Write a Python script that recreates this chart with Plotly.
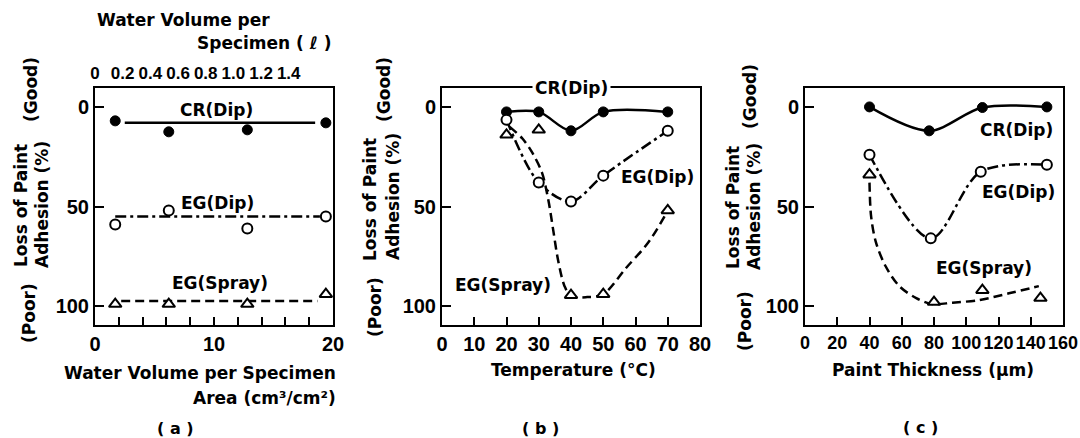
import plotly.graph_objects as go

# ---------------- data ----------------
# (a) water volume per specimen area
a_x = [1.7, 6.2, 12.8, 19.4]
a_cr = [7, 12.5, 11.5, 8]
a_egdip = [59, 52, 61, 55]
a_egspray = [99, 99, 99, 94]
a_cr_fit_x = [2.5, 18.5]
a_cr_fit_y = [8, 8]
a_dip_fit_x = [1.7, 18.9]
a_dip_fit_y = [55, 55]
a_spray_fit_x = [2.2, 18.7]
a_spray_fit_y = [97.5, 97.5]
a_top_ticks = [0, 0.2, 0.4, 0.6, 0.8, 1.0, 1.2, 1.4]
a_top_labels = ["0", "0.2", "0.4", "0.6", "0.8", "1.0", "1.2", "1.4"]

# (b) temperature
b_x = [20, 30, 40, 50, 70]
b_cr = [2.5, 2.5, 12, 2.5, 2.5]
b_egdip = [6.5, 38, 47.5, 34.5, 12]
b_egspray = [14, 11.5, 94.5, 94, 52]
b_spray_curve_x = [21, 25, 28, 31, 33, 34.5, 36, 38, 40, 45, 50, 57, 64, 69]
b_spray_curve_y = [10, 16, 23, 33, 47, 62, 77, 90, 95, 95.5, 94, 81, 68, 55]

# (c) paint thickness
c_cr_x = [40, 77, 110, 150]
c_cr = [0, 12, 0.3, 0]
c_dip_x = [40, 78, 109, 150]
c_egdip = [24, 66, 32.5, 29]
c_spray_x = [40, 80, 110, 146]
c_egspray = [34, 98, 92, 96]
c_spray_curve_x = [40, 41, 44, 50, 58.5, 69, 79, 91.5, 108, 126.5, 145]
c_spray_curve_y = [38, 55, 68, 80, 90, 96, 99, 98.3, 97, 93.6, 90]

y_ticks = [0, 50, 100]

# ---------------- styling ----------------
W, H = 1080, 438
TXT = dict(family="DejaVu Sans", size=17, color="black", weight="bold")
TICKF = dict(family="Liberation Sans, Arial, sans-serif", size=20, color="black", weight="bold")
LW = 2.5
DASH = "9px,5px"
DASHDOT = "11px,4px,3px,4px"


def px(x):
    return x / W


def py(y):
    return 1 - y / H


fig = go.Figure()


def line(x, y, dash, xa, ya, spline=True):
    fig.add_trace(go.Scatter(x=x, y=y, mode="lines", xaxis=xa, yaxis=ya,
                             line=dict(color="black", width=LW, dash=dash,
                                       shape="spline" if spline else "linear",
                                       smoothing=0.9),
                             showlegend=False, hoverinfo="skip"))


def marks(x, y, kind, xa, ya):
    if kind == "filled":
        m = dict(symbol="circle", size=10, color="black", line=dict(color="black", width=1))
    elif kind == "open":
        m = dict(symbol="circle", size=10, color="white", line=dict(color="black", width=2))
    else:
        m = dict(symbol="triangle-up", size=11, color="white", line=dict(color="black", width=2))
    fig.add_trace(go.Scatter(x=x, y=y, mode="markers", xaxis=xa, yaxis=ya, marker=m,
                             showlegend=False, hoverinfo="skip"))


# (a)
line(a_cr_fit_x, a_cr_fit_y, "solid", "x", "y", False)
line(a_dip_fit_x, a_dip_fit_y, DASHDOT, "x", "y", False)
line(a_spray_fit_x, a_spray_fit_y, DASH, "x", "y", False)
marks(a_x, a_cr, "filled", "x", "y")
marks(a_x, a_egdip, "open", "x", "y")
marks(a_x, a_egspray, "tri", "x", "y")
fig.add_trace(go.Scatter(x=[], y=[], xaxis="x4", yaxis="y", showlegend=False))

# (b)
line(b_x, b_cr, "solid", "x2", "y2")
line(b_x, b_egdip, DASHDOT, "x2", "y2")
line(b_spray_curve_x, b_spray_curve_y, DASH, "x2", "y2")
marks(b_x, b_cr, "filled", "x2", "y2")
marks(b_x, b_egdip, "open", "x2", "y2")
marks(b_x, b_egspray, "tri", "x2", "y2")

# (c)
line(c_cr_x, c_cr, "solid", "x3", "y3")
line(c_dip_x, c_egdip, DASHDOT, "x3", "y3")
line(c_spray_curve_x, c_spray_curve_y, DASH, "x3", "y3")
marks(c_cr_x, c_cr, "filled", "x3", "y3")
marks(c_dip_x, c_egdip, "open", "x3", "y3")
marks(c_spray_x, c_egspray, "tri", "x3", "y3")

ydom = [py(325), py(88)]


def xax(dom, rng, dtick, anchor, minor=None, fsize=20):
    d = dict(domain=dom, range=rng, anchor=anchor, showline=True, linecolor="black",
             linewidth=2, mirror=True, ticks="inside", ticklen=8, tickwidth=1.5,
             tickcolor="black", dtick=dtick, tick0=0, showgrid=False, zeroline=False,
             tickfont=dict(TICKF, size=fsize), tickangle=0, automargin=False, fixedrange=True)
    if minor:
        d["minor"] = minor
    return d


def yax(dom, anchor):
    return dict(domain=dom, range=[109.5, -9.5], anchor=anchor, showline=True,
                linecolor="black", linewidth=2, mirror=True, ticks="inside", ticklen=9,
                tickwidth=1.5, tickcolor="black", tickvals=y_ticks, showgrid=False,
                zeroline=False, tickfont=TICKF, automargin=False, fixedrange=True)


fig.update_layout(
    width=W, height=H, margin=dict(l=0, r=0, t=0, b=0, autoexpand=False),
    paper_bgcolor="white", plot_bgcolor="white",
    xaxis=xax([px(95), px(333)], [0, 20], 10, "y",
              minor=dict(dtick=2, ticks="inside", ticklen=8, tickwidth=1.5, tickcolor="black", showgrid=False)),
    xaxis2=xax([px(442), px(700)], [0, 80], 10, "y2"),
    xaxis3=xax([px(805), px(1063)], [0, 160], 20, "y3", fsize=18),
    xaxis4=dict(overlaying="x", side="top", anchor="y", range=[0, 1.72],
                tickvals=a_top_ticks, ticktext=a_top_labels, ticks="", tickangle=0,
                showline=True, linecolor="black", linewidth=2, showgrid=False,
                zeroline=False, fixedrange=True, automargin=False,
                tickfont=dict(TICKF, size=17)),
    yaxis=yax(ydom, "x"),
    yaxis2=yax(ydom, "x2"),
    yaxis3=yax(ydom, "x3"),
)

ann = []


def text(t, x, y, xa="paper", ya="paper", angle=0, xanchor="center", bg=None, size=None):
    f = dict(TXT)
    if size:
        f["size"] = size
    d = dict(text=t, x=x, y=y, xref=xa, yref=ya, showarrow=False, textangle=angle,
             xanchor=xanchor, yanchor="middle", font=f)
    if bg:
        d["bgcolor"] = bg
        d["borderpad"] = 2
    ann.append(d)


# in-plot series labels
text("CR(Dip)", 10.25, 1.5, "x", "y")
text("EG(Dip)", 10.3, 48, "x", "y")
text("EG(Spray)", 10.5, 88.5, "x", "y")
text("CR(Dip)", 40, -9.5, "x2", "y2", bg="white")
text("EG(Dip)", 66.8, 35, "x2", "y2")
text("EG(Spray)", 19, 89.5, "x2", "y2")
text("CR(Dip)", 131, 11.5, "x3", "y3")
text("EG(Dip)", 132.7, 42.7, "x3", "y3")
text("EG(Spray)", 111, 81, "x3", "y3")

# y titles
for L, A, G, P, ly, ay, gy, pyy in [(21, 42, 31, 29, 206, 205, 90, 313),
                                    (370, 393, 384, 375, 200, 197, 90, 307),
                                    (733, 754, 750, 745, 208, 207, 97, 321)]:
    text("Loss of Paint", px(L), py(ly), angle=-90)
    text("Adhesion (%)", px(A), py(ay), angle=-90)
    text("(Good)", px(G), py(gy), angle=-90)
    text("(Poor)", px(P), py(pyy), angle=-90)

# x titles
text("Water Volume per", px(183), py(20))
text("Specimen ( ℓ )", px(264), py(43))
text("Water Volume per Specimen", px(200), py(373))
text("Area (cm³/cm²)", px(338), py(398), xanchor="right")
text("Temperature (°C)", px(573), py(370))
text("Paint Thickness (μm)", px(933), py(370))
text("( a )", px(175), py(428), size=16)
text("( b )", px(540), py(428), size=16)
text("( c )", px(920), py(427), size=16)

fig.update_layout(annotations=ann)
fig.write_html("out.html")
